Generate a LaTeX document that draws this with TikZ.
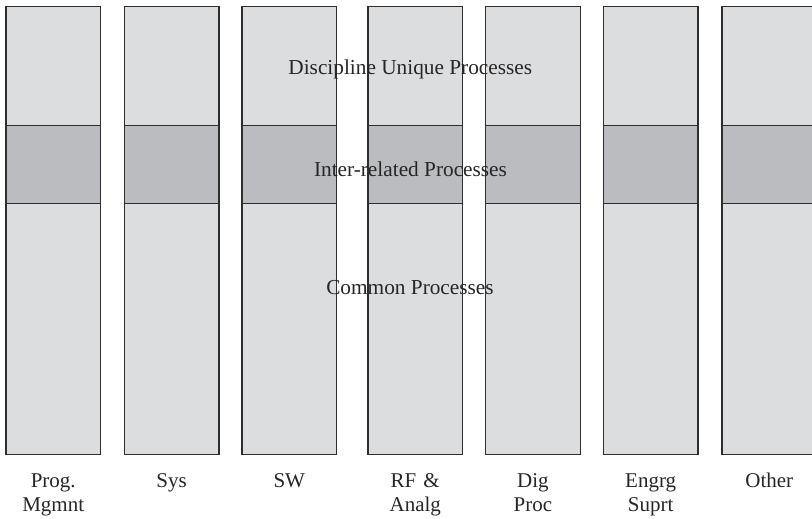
\documentclass[tikz,border=0pt]{standalone}
\usepackage{fontspec}
\setmainfont{Liberation Serif}
\begin{document}
\begin{tikzpicture}[x=1pt,y=1pt,
  band/.style={draw=lineC, line width=1.4pt, minimum width=94.5pt, inner sep=0pt, anchor=south west},
  upper/.style={band, fill=lightC},
  middle/.style={band, fill=darkC},
  lower/.style={band, fill=lightC},
  overtext/.style={font=\fontsize{21.3}{24}\selectfont, text=textC, anchor=base, inner sep=0pt},
  disc/.style={font=\fontsize{21}{24.4}\selectfont, text=textC, text width=110pt, align=center, anchor=base, inner sep=0pt}]
\definecolor{lightC}{HTML}{DCDDDF}
\definecolor{darkC}{HTML}{BBBCBF}
\definecolor{lineC}{HTML}{2E2E2E}
\definecolor{textC}{HTML}{262626}
\useasboundingbox (0,0) rectangle (812,519);
\clip (0,0) rectangle (812,519);
% columns: left edge / label
\foreach \i/\xl/\lab in {1/5.3/{Prog.\\Mgmnt}, 2/123.7/Sys, 3/241.3/SW, 4/367.3/{RF \&\\Analg},
                          5/485/{Dig\\Proc}, 6/602.7/{Engrg\\Suprt}, 7/721.3/Other}{
  \node[lower,  minimum height=251.5pt] (low\i) at (\xl,63.5) {};
  \node[middle, minimum height=78pt]    (mid\i) at (\xl,315) {};
  \node[upper,  minimum height=118.5pt] (up\i)  at (\xl,393) {};
  \node[disc] (lab\i) at ([yshift=-31.8pt]low\i.south) {\lab};
}
% text laid across all columns
\node[overtext] (tUnique) at (410.3,444) {Discipline Unique Processes};
\node[overtext] (tInter)  at (410.5,342.3) {Inter-related Processes};
\node[overtext] (tCommon) at (410,224) {Common Processes};
\end{tikzpicture}
\end{document}
